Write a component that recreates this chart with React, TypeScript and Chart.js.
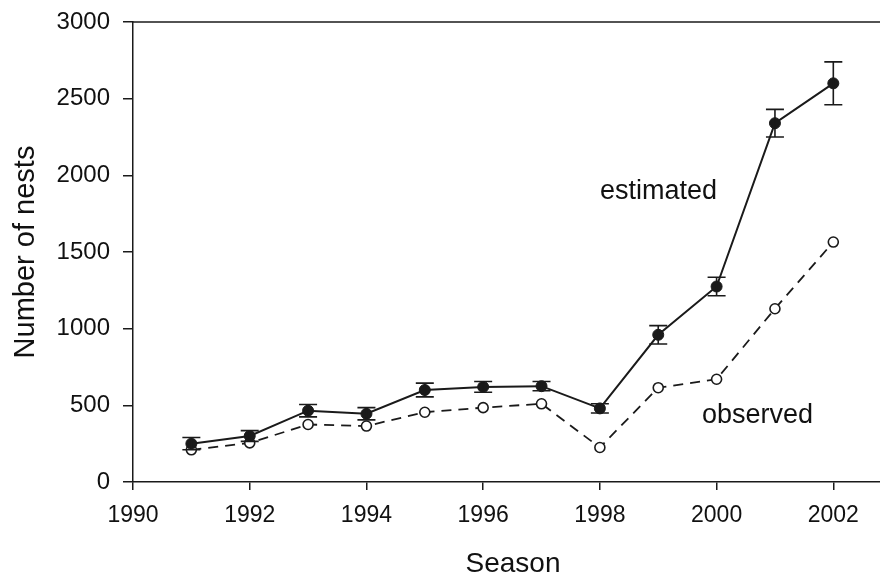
import React, { useEffect, useRef } from 'react';
import { Chart, registerables } from 'chart.js';

Chart.register(...registerables);

const seasons = [1991, 1992, 1993, 1994, 1995, 1996, 1997, 1998, 1999, 2000, 2001, 2002];
const estimated = [250, 300, 465, 445, 600, 620, 625, 480, 960, 1275, 2340, 2600];
const estimatedErr = [40, 35, 40, 40, 45, 35, 30, 30, 60, 60, 90, 140];
const observed = [210, 255, 375, 365, 455, 485, 510, 225, 615, 670, 1130, 1565];
const xTicks = [1990, 1992, 1994, 1996, 1998, 2000, 2002];
const yTicks = [0, 500, 1000, 1500, 2000, 2500, 3000];
const annotationTexts = ['estimated', 'observed'];
const annotationX = [1998.0, 1999.75];
const annotationY = [1846, 385];

const FONT = '"Liberation Sans", Arial, Helvetica, sans-serif';
const INK = '#1a1a1a';

const overlayPlugin = {
  id: 'overlay',
  afterDatasetsDraw(chart: any) {
    const { ctx, chartArea, scales } = chart;
    const xs = scales.x;
    const ys = scales.y;
    ctx.save();
    // top border
    ctx.strokeStyle = INK;
    ctx.lineWidth = 1.5;
    ctx.beginPath();
    ctx.moveTo(chartArea.left, chartArea.top);
    ctx.lineTo(chart.width, chartArea.top);
    ctx.stroke();
    // error bars
    ctx.lineWidth = 1.6;
    ctx.strokeStyle = INK;
    for (let i = 0; i < seasons.length; i++) {
      const x = xs.getPixelForValue(seasons[i]);
      const yt = ys.getPixelForValue(estimated[i] + estimatedErr[i]);
      const yb = ys.getPixelForValue(estimated[i] - estimatedErr[i]);
      const hw = 9;
      ctx.beginPath();
      ctx.moveTo(x, yt);
      ctx.lineTo(x, yb);
      ctx.moveTo(x - hw, yt);
      ctx.lineTo(x + hw, yt);
      ctx.moveTo(x - hw, yb);
      ctx.lineTo(x + hw, yb);
      ctx.stroke();
    }
    // annotations
    ctx.fillStyle = '#111';
    ctx.font = `27px ${FONT}`;
    ctx.textAlign = 'left';
    ctx.textBaseline = 'alphabetic';
    for (let i = 0; i < annotationTexts.length; i++) {
      ctx.fillText(annotationTexts[i], xs.getPixelForValue(annotationX[i]), ys.getPixelForValue(annotationY[i]));
    }
    // axis titles
    ctx.font = `28px ${FONT}`;
    ctx.textAlign = 'center';
    ctx.fillText('Season', 513, 572);
    ctx.font = `29px ${FONT}`;
    ctx.save();
    ctx.translate(34, (chartArea.top + chartArea.bottom) / 2);
    ctx.rotate(-Math.PI / 2);
    ctx.fillText('Number of nests', 0, 0);
    ctx.restore();
    ctx.restore();
  },
};

export default function App() {
  const ref = useRef<HTMLCanvasElement | null>(null);
  useEffect(() => {
    if (!ref.current) return;
    const chart = new Chart(ref.current, {
      type: 'line',
      data: {
        datasets: [
          {
            label: 'estimated',
            data: seasons.map((s, i) => ({ x: s, y: estimated[i] })),
            borderColor: INK,
            borderWidth: 2,
            pointRadius: 5.5,
            pointBackgroundColor: INK,
            pointBorderColor: INK,
            pointBorderWidth: 1,
            tension: 0,
          },
          {
            label: 'observed',
            data: seasons.map((s, i) => ({ x: s, y: observed[i] })),
            borderColor: INK,
            borderWidth: 1.8,
            borderDash: [10, 7],
            pointRadius: 5,
            pointBackgroundColor: '#ffffff',
            pointBorderColor: INK,
            pointBorderWidth: 1.6,
            tension: 0,
          },
        ],
      },
      options: {
        animation: false,
        responsive: true,
        maintainAspectRatio: false,
        layout: { autoPadding: false, padding: { top: 22, right: 0, left: 0, bottom: 0 } },
        plugins: { legend: { display: false }, tooltip: { enabled: false } },
        scales: {
          x: {
            type: 'linear',
            min: 1990,
            max: 2002.8,
            afterBuildTicks: (s: any) => {
              s.ticks = xTicks.map((v) => ({ value: v }));
            },
            afterFit: (s: any) => {
              s.height = 92;
              s.paddingRight = 0;
              s.paddingLeft = 0;
            },
            grid: { drawOnChartArea: false, drawTicks: true, tickLength: 8, color: INK, lineWidth: 1.5 },
            border: { color: INK, width: 1.5 },
            ticks: {
              font: { size: 23, family: FONT },
              color: '#111',
              padding: 12,
              maxRotation: 0,
              callback: (v: any) => String(v),
            },
          },
          y: {
            type: 'linear',
            min: 0,
            max: 3000,
            afterBuildTicks: (s: any) => {
              s.ticks = yTicks.map((v) => ({ value: v }));
            },
            afterFit: (s: any) => {
              s.width = 133;
              s.paddingTop = 0;
              s.paddingBottom = 0;
            },
            grid: { drawOnChartArea: false, drawTicks: true, tickLength: 10, color: INK, lineWidth: 1.5 },
            border: { color: INK, width: 1.5 },
            ticks: {
              font: { size: 24, family: FONT },
              color: '#111',
              padding: 13,
              callback: (v: any) => String(v),
            },
          },
        },
      },
      plugins: [overlayPlugin],
    });
    return () => chart.destroy();
  }, []);
  return (
    <div style={{ position: 'fixed', left: 0, top: 0, width: 880, height: 574, background: '#fff' }}>
      <canvas ref={ref} />
    </div>
  );
}
